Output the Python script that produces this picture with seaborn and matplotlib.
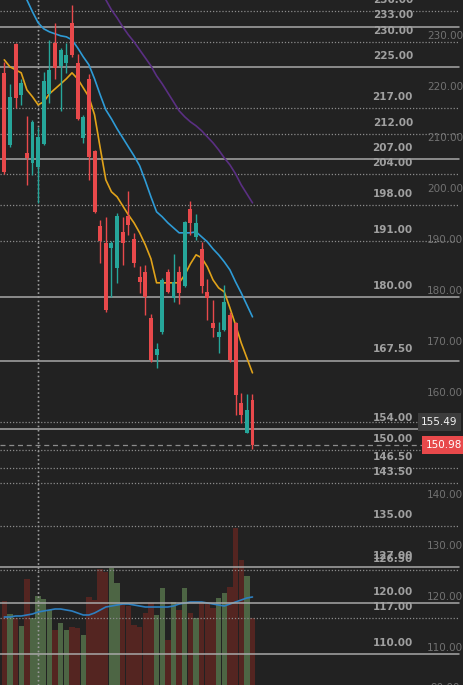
import matplotlib
matplotlib.use("Agg")
import matplotlib.pyplot as plt
import numpy as np
import seaborn as sns

nan = np.nan

# daily candles, oldest first
opens = [223.9, 209.8, 229.6, 219.6, 208.2, 206.3, 205.5, 210.0, 219.8, 229.8,
         225.3, 225.9, 233.7, 225.9, 211.2, 222.7, 208.6, 193.9, 190.6, 189.6,
         185.7, 192.7, 195.9, 191.4, 183.9, 184.9, 175.9, 168.6, 173.1, 184.9,
         179.8, 184.9, 182.2, 197.3, 191.8, 189.4, 181.0, 174.9, 172.2, 173.5,
         176.5, 174.9, 159.2, 153.3, 159.8]
highs = [226.1, 221.8, 229.8, 222.7, 215.5, 214.7, 213.3, 224.1, 230.4, 233.7,
         228.8, 229.8, 237.3, 227.6, 215.7, 223.7, 208.8, 195.1, 195.7, 191.0,
         196.5, 195.7, 200.8, 192.5, 186.1, 186.3, 176.7, 171.0, 183.7, 185.5,
         188.4, 186.1, 194.9, 198.8, 196.3, 190.8, 183.5, 179.4, 175.1, 182.4,
         177.1, 175.1, 161.2, 161.0, 161.0]
lows = [204.1, 209.4, 217.1, 217.6, 202.0, 203.9, 198.4, 209.8, 218.0, 222.7,
        216.5, 223.9, 227.1, 214.7, 210.2, 202.9, 196.5, 186.7, 177.1, 180.0,
        182.7, 186.3, 192.2, 185.9, 180.8, 176.5, 167.3, 166.1, 172.7, 180.8,
        179.0, 178.6, 182.0, 192.2, 191.2, 180.8, 175.5, 172.2, 169.0, 173.3,
        167.3, 156.9, 155.3, 153.3, 150.2]
closes = [204.5, 219.2, 219.0, 222.0, 207.3, 214.3, 211.4, 222.4, 224.5, 224.9,
          228.4, 227.5, 227.5, 214.9, 215.3, 207.5, 196.7, 191.0, 177.5, 190.6,
          195.9, 190.6, 194.1, 186.7, 182.9, 180.0, 167.6, 169.8, 183.3, 181.0,
          182.9, 180.8, 194.7, 194.5, 194.5, 182.2, 179.8, 173.9, 173.1, 179.0,
          167.6, 160.8, 156.9, 157.8, 150.98]
volumes = [84, 71, 67, 59, 106, 67, 89, 86, 75, 55,
           62, 55, 58, 57, 50, 88, 85, 116, 113, 117,
           102, 80, 79, 60, 58, 72, 82, 70, 97, 45,
           83, 75, 97, 72, 67, 82, 81, 77, 87, 92,
           98, 157, 125, 109, 67]
vol_ma = [68, 68, 69, 69, 70, 71, 73, 74, 75, 76,
          76, 75, 74, 72, 70, 70, 72, 75, 78, 79,
          80, 81, 81, 80, 79, 78, 78, 78, 78, 78,
          79, 81, 82, 83, 83, 83, 82, 81, 80, 79,
          81, 83, 85, 87, 88]

# moving averages
ma_fast = [226.47, 225.10, 224.51, 223.92, 220.59, 219.22, 217.65, 218.24, 219.80, 220.78,
           221.76, 222.75, 223.92, 222.75, 220.98, 219.22, 215.69, 209.22, 202.94, 200.59,
           199.61, 197.84, 196.08, 194.51, 192.55, 190.20, 187.45, 182.75, 182.75, 182.75,
           182.75, 182.75, 184.31, 186.47, 188.24, 187.65, 185.88, 183.33, 181.76, 180.98,
           177.84, 174.51, 170.98, 168.04, 165.10]
ma_mid = [nan, nan, nan, 241.18, 238.24, 235.88, 233.73, 232.55, 231.96, 231.57,
          231.18, 230.98, 230.39, 228.82, 227.06, 225.49, 222.75, 219.61, 216.67, 214.90,
          212.94, 211.18, 209.41, 207.65, 205.69, 202.75, 199.61, 196.67, 195.69, 194.51,
          193.53, 192.55, 192.55, 192.55, 192.75, 191.76, 190.78, 189.41, 188.24, 186.86,
          185.29, 182.94, 180.78, 178.43, 176.08]
ma_slow = [nan] * 17 + [240.20, 238.24, 236.27, 234.71, 232.94, 231.37, 230.00, 228.43, 226.86,
                        225.29, 223.33, 221.76, 220.00, 218.24, 216.47, 215.29, 214.31, 213.53,
                        212.55, 211.37, 210.20, 208.82, 207.25, 205.88, 204.12, 201.96, 200.20,
                        198.43]

levels_solid = [233, 225, 207, 180, 167.5, 154, 127, 120, 110]
levels_dotted = [236, 230, 217, 212, 204, 198, 191, 150, 146.5, 143.5, 135, 126.5, 117]
axis_ticks = [230, 220, 210, 200, 190, 180, 170, 160, 140, 130, 120, 110]
prev_close = 155.49
last_price = 150.98
marker_day = 6

bg = "#222222"
up, down = "#26a69a", "#e8494b"
vol_up, vol_down = "#4b6a3e", "#5c1e18"

sns.set_theme(style="dark")
plt.rcParams["font.family"] = ["DejaVu Sans"]

idx = np.arange(len(opens))
o, h, l, c = map(np.array, (opens, highs, lows, closes))
is_up = c >= o
dirs = np.where(is_up, "up", "down")
colors = np.where(is_up, up, down)

fig = plt.figure(figsize=(4.64, 6.85), dpi=100)
fig.patch.set_facecolor(bg)
xlim = (-0.76, 81.5)

# volume pane underneath
axv = fig.add_axes([0, 0, 1, 1])
sns.barplot(x=idx, y=volumes, hue=dirs, palette={"up": vol_up, "down": vol_down},
            native_scale=True, dodge=False, width=0.95, errorbar=None,
            legend=False, ax=axv, linewidth=0)
sns.lineplot(x=idx, y=vol_ma, color="#2d7fc0", lw=1.2, ax=axv)
axv.set_xlim(*xlim)
axv.set_ylim(0, 685)
axv.axis("off")

# price pane
ax = fig.add_axes([0, 0, 1, 1])
ax.set_xlim(*xlim)
ax.set_ylim(103.9, 238.2)
ax.axis("off")

for lv in levels_solid:
    ax.axhline(lv, xmax=0.989, color="#a8a8a8", lw=1.1, zorder=1)
for lv in levels_dotted:
    ax.axhline(lv, xmax=0.989, color="#8c8c8c", lw=0.9, ls=(0, (1, 1.5)), zorder=1)
ax.axhline(prev_close, xmax=0.9, color="#8c8c8c", lw=0.9, ls=(0, (1, 1.5)), zorder=1)
ax.axhline(last_price, xmax=0.91, color="#8c8c8c", lw=0.9, ls=(0, (4, 3)), zorder=1)
ax.axvline(marker_day, color="#9a9a9a", lw=1, ls=(0, (1, 2)), zorder=1)
axv.axvline(marker_day, color="#9a9a9a", lw=1, ls=(0, (1, 2)))

for lv in levels_solid + levels_dotted:
    ax.annotate(f"{lv:.2f}", xy=(0.89, lv), xycoords=("axes fraction", "data"),
                xytext=(0, 8), textcoords="offset points", ha="right", va="center",
                fontsize=7.5, fontweight="bold", color="#a0a0a0", annotation_clip=False)
for t in axis_ticks:
    ax.annotate(f"{t:.2f}", xy=(0.998, t), xycoords=("axes fraction", "data"),
                xytext=(0, 4.3), textcoords="offset points", ha="right", va="center",
                fontsize=7.5, color="#727272", annotation_clip=False)
fig.text(0.992, -0.004, "90.00", ha="right", va="center", fontsize=7.5, color="#727272")

# moving averages
sns.lineplot(x=idx, y=ma_slow, color="#5a2f82", lw=1.2, ax=ax, zorder=2)
sns.lineplot(x=idx, y=ma_mid, color="#2e9bd6", lw=1.2, ax=ax, zorder=2)
sns.lineplot(x=idx, y=ma_fast, color="#e0a21a", lw=1.2, ax=ax, zorder=3)

# candles
ax.vlines(idx, l, h, colors=colors, lw=1, zorder=4)
body_lo = np.minimum(o, c)
body_h = np.maximum(np.abs(c - o), 0.3)
ax.bar(idx, body_h, bottom=body_lo, width=0.7, color=colors, linewidth=0, zorder=5)

ax.set_ylim(103.9, 238.2)
ax.set_xlim(*xlim)

ax.annotate(f"{prev_close:.2f}", xy=(0.908, prev_close), xycoords=("axes fraction", "data"),
            ha="left", va="center", fontsize=7.5, color="#f2f2f2", zorder=6,
            bbox=dict(boxstyle="square,pad=0.35", fc="#3c3c3c", ec="none"))
ax.annotate(f"{last_price:.2f}", xy=(0.917, last_price), xycoords=("axes fraction", "data"),
            ha="left", va="center", fontsize=7.5, color="white", zorder=6,
            bbox=dict(boxstyle="square,pad=0.35", fc="#e8494b", ec="none"))

fig.savefig("out.png", dpi=100, facecolor=bg)
